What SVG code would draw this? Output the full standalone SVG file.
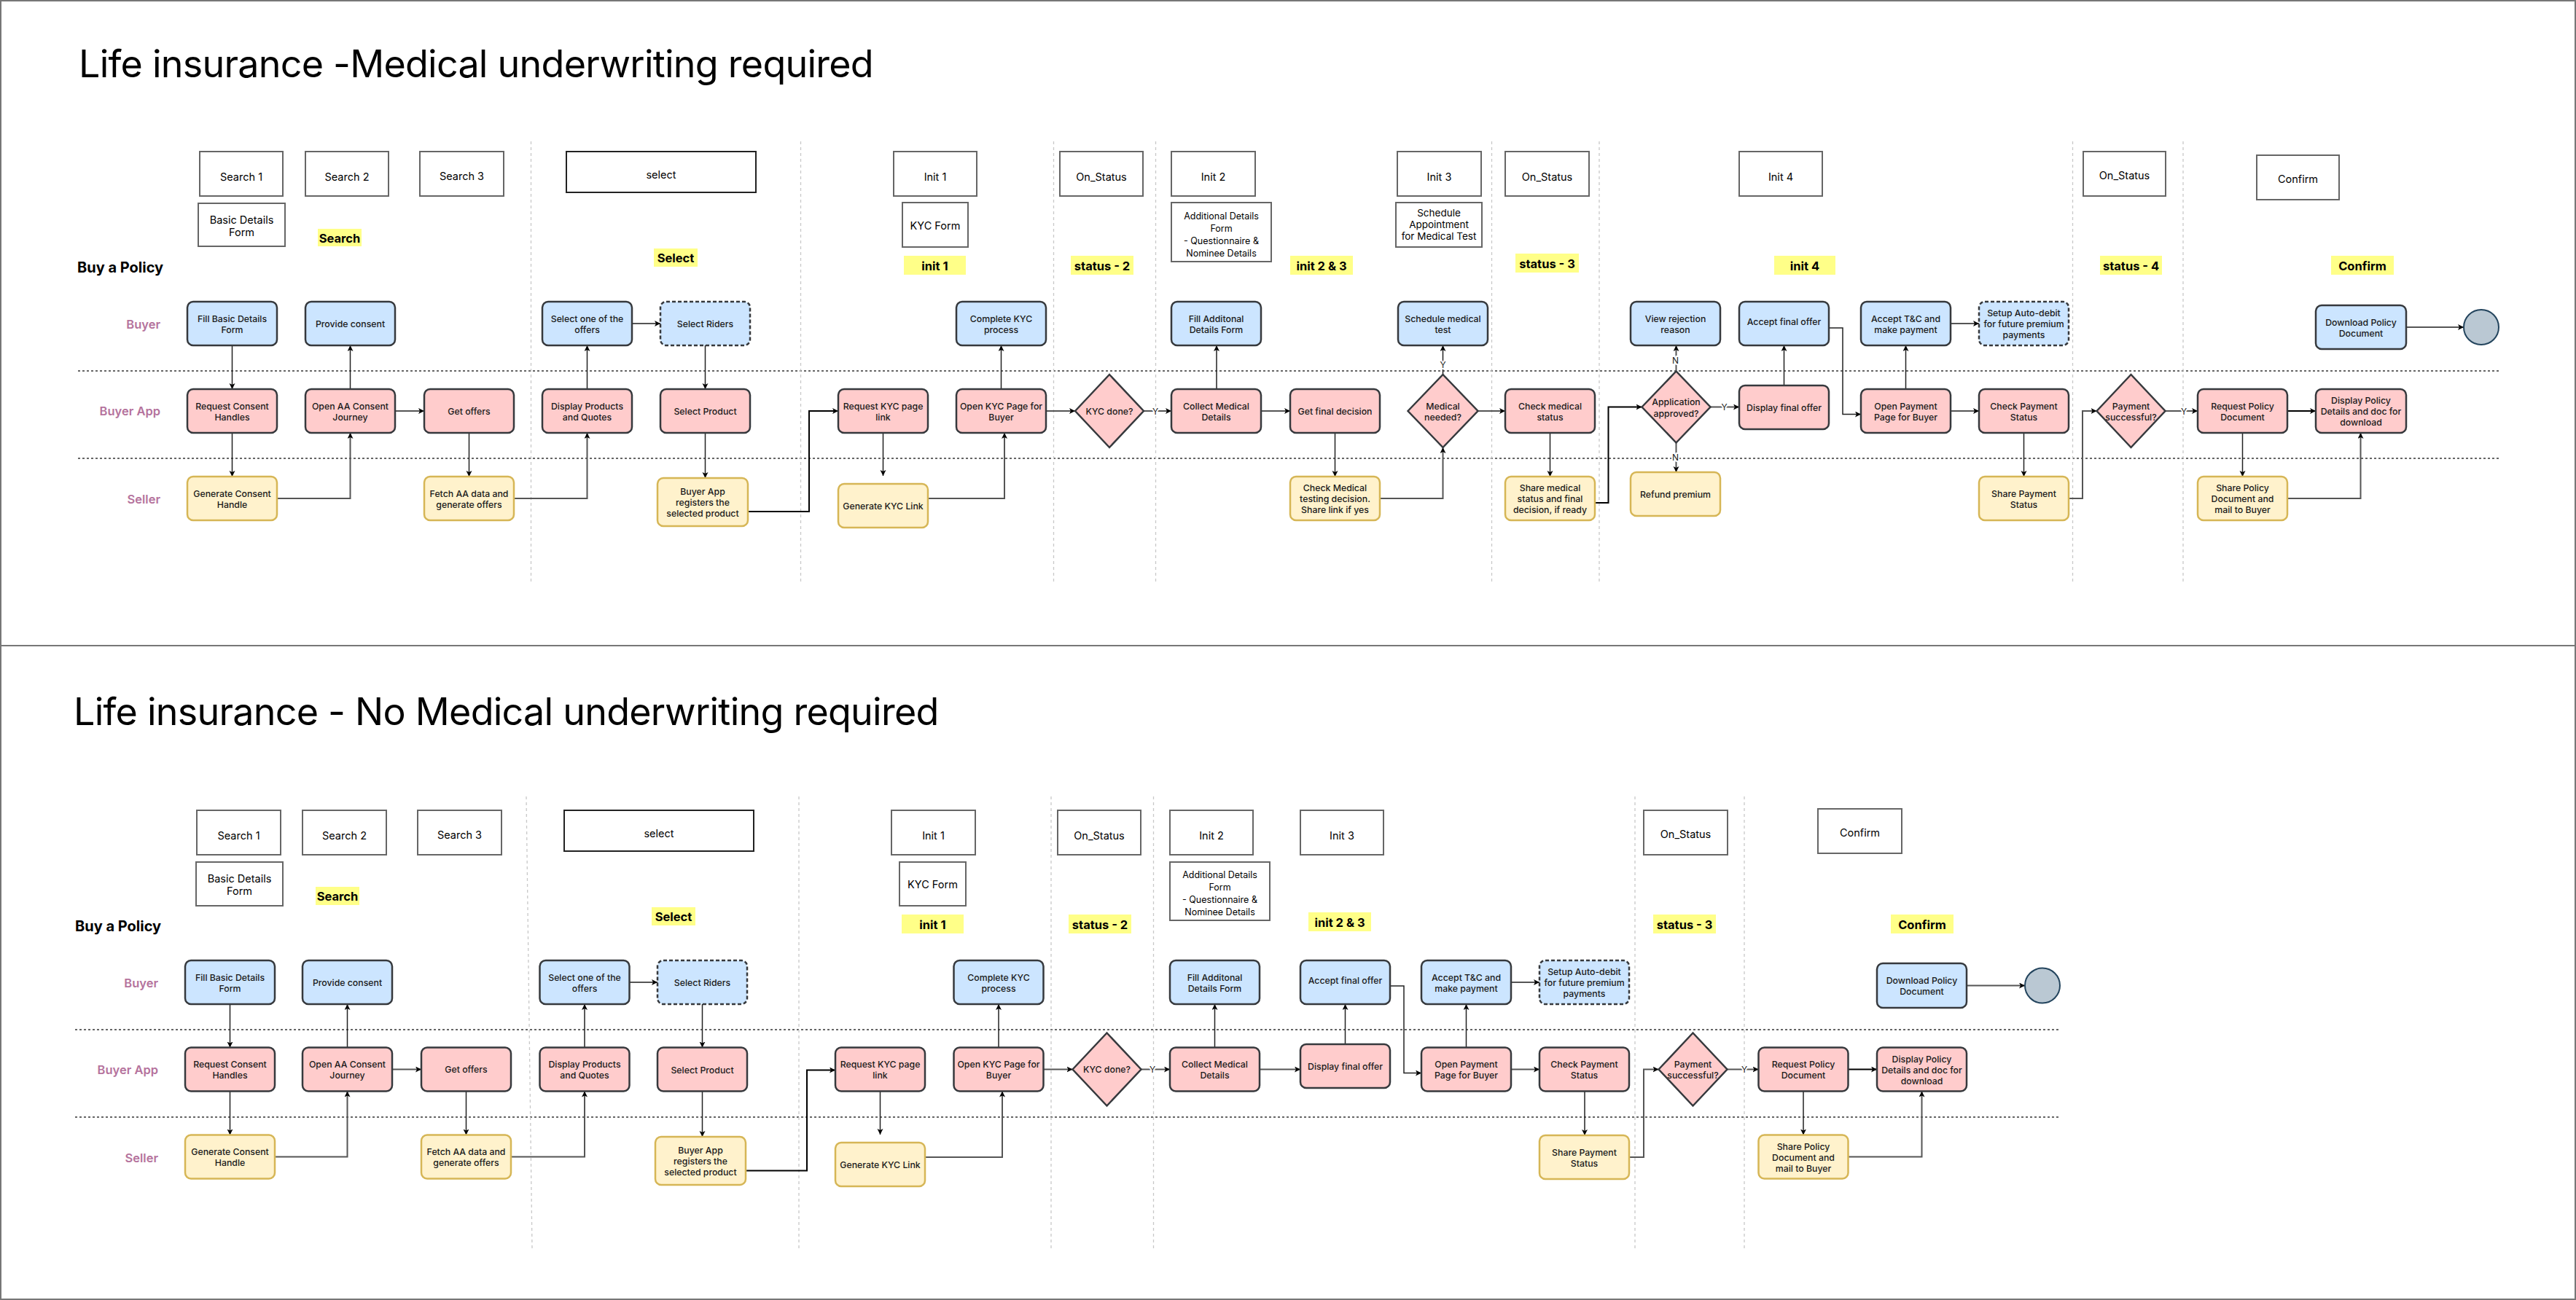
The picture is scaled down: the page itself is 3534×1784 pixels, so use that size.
<svg xmlns="http://www.w3.org/2000/svg" width="3534" height="1784" viewBox="0 0 3534 1784">
<defs>
<marker id="ar" markerUnits="userSpaceOnUse" markerWidth="10" markerHeight="10" refX="8" refY="4" orient="auto"><path d="M0,0 L8,4 L0,8 L2,4 Z" fill="#000"/></marker>
<style>
text{font-family:Inter,"Liberation Sans",sans-serif}
.title{font-size:52px;fill:#000;letter-spacing:-0.75px}
.bap{font-size:20px;font-weight:700;fill:#000}
.lb{fill:#fff;stroke:#666;stroke-width:2}
.lt{font-size:14.5px;fill:#000;text-anchor:middle;dominant-baseline:central}
.st{font-size:12.5px;fill:#000;text-anchor:middle;dominant-baseline:central}
.hl{fill:#FFFF88}
.ht{font-size:16.5px;font-weight:700;fill:#000;text-anchor:middle;dominant-baseline:central}
.bu{fill:#CCE5FF;stroke:#36393D;stroke-width:2.5}
.ba{fill:#FFCCCC;stroke:#36393D;stroke-width:2.5}
.se{fill:#FFF2CC;stroke:#D6B656;stroke-width:2.5}
.dsh{stroke-dasharray:5 3}
.nt{font-size:12.3px;font-weight:500;fill:#1a1a1a;text-anchor:middle;dominant-baseline:central}
.lane{stroke:#666;stroke-width:2;stroke-dasharray:3 3;fill:none}
.sep{stroke:#C8C8C8;stroke-width:1.3;stroke-dasharray:4 4;fill:none}
.ln{font-size:16.5px;font-weight:600;fill:#B5739D;text-anchor:end;dominant-baseline:central}
.c1{fill:none;stroke:#222;stroke-width:1.5;marker-end:url(#ar)}
.c2{fill:none;stroke:#555;stroke-width:2;marker-end:url(#ar)}
.c3{fill:none;stroke:#000;stroke-width:2;marker-end:url(#ar)}
.yn{font-size:12px;fill:#222;text-anchor:middle;dominant-baseline:central;paint-order:stroke;stroke:#fff;stroke-width:4}
.end{fill:#BAC8D3;stroke:#23445D;stroke-width:2}
</style>
</defs>
<rect x="0" y="0" width="3534" height="1784" fill="#fff"/>
<g id="frame" fill="none" stroke="#777" stroke-width="2">
<rect x="1" y="1" width="3532" height="1782"/>
<line x1="0" y1="886" x2="3534" y2="886"/>
</g>

<!-- ================= TOP DIAGRAM ================= -->
<g id="top-headings">
<text class="title" x="108" y="106">Life insurance -Medical underwriting required</text>
<text class="bap" x="106" y="374">Buy a Policy</text>
<text class="ln" x="220" y="445">Buyer</text>
<text class="ln" x="220" y="564">Buyer App</text>
<text class="ln" x="220" y="685">Seller</text>
</g>
<g id="top-lanes">
<line class="lane" x1="107" y1="509" x2="3428" y2="509"/>
<line class="lane" x1="107" y1="629" x2="3428" y2="629"/>
<line class="sep" x1="728.5" y1="194" x2="728.5" y2="800"/>
<line class="sep" x1="1098.5" y1="194" x2="1098.5" y2="800"/>
<line class="sep" x1="1445.5" y1="194" x2="1445.5" y2="800"/>
<line class="sep" x1="1585.5" y1="194" x2="1585.5" y2="800"/>
<line class="sep" x1="2046.5" y1="194" x2="2046.5" y2="800"/>
<line class="sep" x1="2194" y1="194" x2="2194" y2="800"/>
<line class="sep" x1="2843.5" y1="194" x2="2843.5" y2="800"/>
<line class="sep" x1="2995" y1="194" x2="2995" y2="800"/>
</g>
<g id="top-stages">
<g id="t-s1"><rect class="lb" x="274" y="208" width="114" height="61"/><text class="lt" x="331" y="242">Search 1</text></g>
<g id="t-s2"><rect class="lb" x="419" y="208" width="114" height="61"/><text class="lt" x="476" y="242">Search 2</text></g>
<g id="t-s3"><rect class="lb" x="576" y="208" width="115" height="61"/><text class="lt" x="633.5" y="241">Search 3</text></g>
<g id="t-sel"><rect class="lb" x="777" y="208" width="260" height="56" style="stroke:#222"/><text class="lt" x="907" y="239">select</text></g>
<g id="t-bdf"><rect class="lb" x="272" y="279" width="119" height="59"/><text class="lt"><tspan x="331.5" y="301">Basic Details</tspan><tspan x="331.5" y="318">Form</tspan></text></g>
<g id="t-i1"><rect class="lb" x="1226" y="208" width="114" height="61"/><text class="lt" x="1283" y="242">Init 1</text></g>
<g id="t-kyc"><rect class="lb" x="1238" y="278" width="90" height="61"/><text class="lt" x="1283" y="309">KYC Form</text></g>
<g id="t-os1"><rect class="lb" x="1454" y="208" width="114" height="61"/><text class="lt" x="1511" y="242">On_Status</text></g>
<g id="t-i2"><rect class="lb" x="1607" y="208" width="115" height="61"/><text class="lt" x="1664.5" y="242">Init 2</text></g>
<g id="t-adf"><rect class="lb" x="1607" y="278" width="137" height="81"/><text class="st"><tspan x="1675.5" y="296">Additional Details</tspan><tspan x="1675.5" y="313">Form</tspan><tspan x="1675.5" y="330">- Questionnaire &amp;</tspan><tspan x="1675.5" y="347">Nominee Details</tspan></text></g>
<g id="t-i3"><rect class="lb" x="1917" y="208" width="115" height="61"/><text class="lt" x="1974.5" y="242">Init 3</text></g>
<g id="t-sam"><rect class="lb" x="1915" y="278" width="118" height="61"/><text class="st" style="font-size:13.5px"><tspan x="1974" y="292">Schedule</tspan><tspan x="1974" y="308">Appointment</tspan><tspan x="1974" y="324">for Medical Test</tspan></text></g>
<g id="t-os2"><rect class="lb" x="2065" y="208" width="115" height="61"/><text class="lt" x="2122.5" y="242">On_Status</text></g>
<g id="t-i4"><rect class="lb" x="2386" y="208" width="114" height="61"/><text class="lt" x="2443" y="242">Init 4</text></g>
<g id="t-os3"><rect class="lb" x="2858" y="208" width="113" height="61"/><text class="lt" x="2914.5" y="240">On_Status</text></g>
<g id="t-cf"><rect class="lb" x="3096" y="213" width="113" height="61"/><text class="lt" x="3152.5" y="245">Confirm</text></g>
</g>
<g id="top-phase-labels">
<g id="t-h-search"><rect class="hl" x="436" y="314" width="60" height="24"/><text class="ht" x="466" y="326.5">Search</text></g>
<g id="t-h-select"><rect class="hl" x="897" y="341" width="60" height="25"/><text class="ht" x="927" y="354">Select</text></g>
<g id="t-h-init1"><rect class="hl" x="1240" y="351" width="85" height="26"/><text class="ht" x="1282.5" y="364.5">init 1</text></g>
<g id="t-h-st2"><rect class="hl" x="1469" y="351" width="86" height="26"/><text class="ht" x="1512" y="364.5">status - 2</text></g>
<g id="t-h-init23"><rect class="hl" x="1770" y="351" width="86" height="26"/><text class="ht" x="1813" y="364.5">init 2 &amp; 3</text></g>
<g id="t-h-st3"><rect class="hl" x="2079" y="348" width="87" height="26"/><text class="ht" x="2122.5" y="361.5">status - 3</text></g>
<g id="t-h-init4"><rect class="hl" x="2434" y="351" width="84" height="26"/><text class="ht" x="2476" y="364.5">init 4</text></g>
<g id="t-h-st4"><rect class="hl" x="2881" y="351" width="85" height="26"/><text class="ht" x="2923.5" y="364.5">status - 4</text></g>
<g id="t-h-confirm"><rect class="hl" x="3198" y="351" width="86" height="26"/><text class="ht" x="3241" y="364.5">Confirm</text></g>
</g>

<g id="top-connectors">
<path class="c1" d="M318.5,474 V534"/>
<path class="c1" d="M318.5,594 V654"/>
<path class="c2" d="M380,684 H480.5 V594"/>
<path class="c1" d="M480.5,534 V474"/>
<path class="c2" d="M542,564 H582"/>
<path class="c1" d="M643.5,594 V654"/>
<path class="c2" d="M705,684 H805.5 V594"/>
<path class="c1" d="M805.5,534 V474"/>
<path class="c2" d="M867,444 H906"/>
<path class="c1" d="M967.5,474 V534"/>
<path class="c1" d="M967.5,594 V656"/>
<path class="c3" d="M1026,702 H1110 V564 H1150"/>
<path class="c1" d="M1211.5,594 V653"/>
<path class="c2" d="M1273,684 H1378 V594"/>
<path class="c1" d="M1373.5,534 V474"/>
<path class="c2" d="M1435,564 H1475"/>
<path class="c2" d="M1569,564 H1607"/>
<path class="c1" d="M1669,534 V474"/>
<path class="c2" d="M1730,564 H1770"/>
<path class="c1" d="M1831.5,594 V654"/>
<path class="c2" d="M1893,684 H1979.5 V614"/>
<path class="c1" d="M1979.5,514 V474"/>
<path class="c2" d="M2027.5,564 H2065"/>
<path class="c1" d="M2126.5,594 V654"/>
<path class="c3" d="M2188,690 H2206.5 V558.5 H2252.5"/>
<path class="c2" d="M2299.5,509.5 V474"/>
<path class="c2" d="M2299.5,607.5 V648"/>
<path class="c2" d="M2346.5,558.5 H2386"/>
<path class="c1" d="M2447.5,529 V474"/>
<path class="c1" d="M2509,450 H2528 V568.5 H2553"/>
<path class="c1" d="M2614.5,534 V474"/>
<path class="c2" d="M2676,444 H2715"/>
<path class="c2" d="M2676,564 H2715"/>
<path class="c1" d="M2776.5,594 V654"/>
<path class="c2" d="M2838,684 H2857 V564 H2876.5"/>
<path class="c2" d="M2970.5,564 H3015"/>
<path class="c3" d="M3138,564 H3177"/>
<path class="c1" d="M3076.5,594 V654"/>
<path class="c2" d="M3138,684 H3238.5 V594"/>
<path class="c2" d="M3301,449 H3380"/>
<text class="yn" x="1585" y="564">Y</text>
<text class="yn" x="1979.5" y="500">Y</text>
<text class="yn" x="2298.5" y="494">N</text>
<text class="yn" x="2298.5" y="627">N</text>
<text class="yn" x="2365.5" y="558.5">Y</text>
<text class="yn" x="2996" y="564">Y</text>
</g>

<g id="t-fill"><rect class="bu" x="257" y="414" width="123" height="60" rx="8"/><text class="nt"><tspan x="318.5" y="436.5">Fill Basic Details</tspan><tspan x="318.5" y="451.5">Form</tspan></text></g>
<g id="t-prov"><rect class="bu" x="419" y="414" width="123" height="60" rx="8"/><text class="nt" x="480.5" y="444">Provide consent</text></g>
<g id="t-selone"><rect class="bu" x="744" y="414" width="123" height="60" rx="8"/><text class="nt"><tspan x="805.5" y="436.5">Select one of the</tspan><tspan x="805.5" y="451.5">offers</tspan></text></g>
<g id="t-riders"><rect class="bu dsh" x="906" y="414" width="123" height="60" rx="8"/><text class="nt" x="967.5" y="444">Select Riders</text></g>
<g id="t-ckyc"><rect class="bu" x="1312" y="414" width="123" height="60" rx="8"/><text class="nt"><tspan x="1373.5" y="436.5">Complete KYC</tspan><tspan x="1373.5" y="451.5">process</tspan></text></g>
<g id="t-fillad"><rect class="bu" x="1607" y="414" width="123" height="60" rx="8"/><text class="nt"><tspan x="1668.5" y="436.5">Fill Additonal</tspan><tspan x="1668.5" y="451.5">Details Form</tspan></text></g>
<g id="t-sched"><rect class="bu" x="1918" y="414" width="123" height="60" rx="8"/><text class="nt"><tspan x="1979.5" y="436.5">Schedule medical</tspan><tspan x="1979.5" y="451.5">test</tspan></text></g>
<g id="t-viewrej"><rect class="bu" x="2237" y="414" width="123" height="60" rx="8"/><text class="nt"><tspan x="2298.5" y="436.5">View rejection</tspan><tspan x="2298.5" y="451.5">reason</tspan></text></g>
<g id="t-accfin"><rect class="bu" x="2386" y="414" width="123" height="60" rx="8"/><text class="nt" x="2447.5" y="441">Accept final offer</text></g>
<g id="t-acctc"><rect class="bu" x="2553" y="414" width="123" height="60" rx="8"/><text class="nt"><tspan x="2614.5" y="436.5">Accept T&amp;C and</tspan><tspan x="2614.5" y="451.5">make payment</tspan></text></g>
<g id="t-auto"><rect class="bu dsh" x="2715" y="414" width="123" height="60" rx="8"/><text class="nt"><tspan x="2776.5" y="429">Setup Auto-debit</tspan><tspan x="2776.5" y="444">for future premium</tspan><tspan x="2776.5" y="459">payments</tspan></text></g>
<g id="t-dl"><rect class="bu" x="3177" y="419" width="124" height="60" rx="8"/><text class="nt"><tspan x="3239" y="441.5">Download Policy</tspan><tspan x="3239" y="456.5">Document</tspan></text></g>
<g id="t-end"><circle class="end" cx="3404" cy="449" r="24"/></g>

<g id="t-reqc"><rect class="ba" x="257" y="534" width="123" height="60" rx="8"/><text class="nt"><tspan x="318.5" y="556.5">Request Consent</tspan><tspan x="318.5" y="571.5">Handles</tspan></text></g>
<g id="t-openaa"><rect class="ba" x="419" y="534" width="123" height="60" rx="8"/><text class="nt"><tspan x="480.5" y="556.5">Open AA Consent</tspan><tspan x="480.5" y="571.5">Journey</tspan></text></g>
<g id="t-getoff"><rect class="ba" x="582" y="534" width="123" height="60" rx="8"/><text class="nt" x="643.5" y="564">Get offers</text></g>
<g id="t-disp"><rect class="ba" x="744" y="534" width="123" height="60" rx="8"/><text class="nt"><tspan x="805.5" y="556.5">Display Products</tspan><tspan x="805.5" y="571.5">and Quotes</tspan></text></g>
<g id="t-selprod"><rect class="ba" x="906" y="534" width="123" height="60" rx="8"/><text class="nt" x="967.5" y="564">Select Product</text></g>
<g id="t-reqkyc"><rect class="ba" x="1150" y="534" width="123" height="60" rx="8"/><text class="nt"><tspan x="1211.5" y="556.5">Request KYC page</tspan><tspan x="1211.5" y="571.5">link</tspan></text></g>
<g id="t-openkyc"><rect class="ba" x="1312" y="534" width="123" height="60" rx="8"/><text class="nt"><tspan x="1373.5" y="556.5">Open KYC Page for</tspan><tspan x="1373.5" y="571.5">Buyer</tspan></text></g>
<g id="t-dkyc"><polygon class="ba" points="1475,564 1522,514 1569,564 1522,614"/><text class="nt" x="1522" y="564">KYC done?</text></g>
<g id="t-collect"><rect class="ba" x="1607" y="534" width="123" height="60" rx="8"/><text class="nt"><tspan x="1668.5" y="556.5">Collect Medical</tspan><tspan x="1668.5" y="571.5">Details</tspan></text></g>
<g id="t-getfin"><rect class="ba" x="1770" y="534" width="123" height="60" rx="8"/><text class="nt" x="1831.5" y="564">Get final decision</text></g>
<g id="t-dmed"><polygon class="ba" points="1931.5,564 1979.5,514 2027.5,564 1979.5,614"/><text class="nt"><tspan x="1979.5" y="556.5">Medical</tspan><tspan x="1979.5" y="571.5">needed?</tspan></text></g>
<g id="t-checkmed"><rect class="ba" x="2065" y="534" width="123" height="60" rx="8"/><text class="nt"><tspan x="2126.5" y="556.5">Check medical</tspan><tspan x="2126.5" y="571.5">status</tspan></text></g>
<g id="t-dapp"><polygon class="ba" points="2252.5,558.5 2299.5,509.5 2346.5,558.5 2299.5,607.5"/><text class="nt"><tspan x="2299.5" y="551">Application</tspan><tspan x="2299.5" y="567">approved?</tspan></text></g>
<g id="t-dispfin"><rect class="ba" x="2386" y="529" width="123" height="60" rx="8"/><text class="nt" x="2447.5" y="559">Display final offer</text></g>
<g id="t-openpay"><rect class="ba" x="2553" y="534" width="123" height="60" rx="8"/><text class="nt"><tspan x="2614.5" y="556.5">Open Payment</tspan><tspan x="2614.5" y="571.5">Page for Buyer</tspan></text></g>
<g id="t-checkpay"><rect class="ba" x="2715" y="534" width="123" height="60" rx="8"/><text class="nt"><tspan x="2776.5" y="556.5">Check Payment</tspan><tspan x="2776.5" y="571.5">Status</tspan></text></g>
<g id="t-dpay"><polygon class="ba" points="2876.5,564 2923.5,514 2970.5,564 2923.5,614"/><text class="nt"><tspan x="2923.5" y="556.5">Payment</tspan><tspan x="2923.5" y="571.5">successful?</tspan></text></g>
<g id="t-reqpol"><rect class="ba" x="3015" y="534" width="123" height="60" rx="8"/><text class="nt"><tspan x="3076.5" y="556.5">Request Policy</tspan><tspan x="3076.5" y="571.5">Document</tspan></text></g>
<g id="t-disppol"><rect class="ba" x="3177" y="534" width="124" height="60" rx="8"/><text class="nt"><tspan x="3239" y="549">Display Policy</tspan><tspan x="3239" y="564">Details and doc for</tspan><tspan x="3239" y="579">download</tspan></text></g>

<g id="t-gen"><rect class="se" x="257" y="654" width="123" height="60" rx="8"/><text class="nt"><tspan x="318.5" y="676.5">Generate Consent</tspan><tspan x="318.5" y="691.5">Handle</tspan></text></g>
<g id="t-fetch"><rect class="se" x="582" y="654" width="123" height="60" rx="8"/><text class="nt"><tspan x="643.5" y="676.5">Fetch AA data and</tspan><tspan x="643.5" y="691.5">generate offers</tspan></text></g>
<g id="t-bareg"><rect class="se" x="902" y="656" width="124" height="66" rx="8"/><text class="nt"><tspan x="964" y="674">Buyer App</tspan><tspan x="964" y="689">registers the</tspan><tspan x="964" y="704">selected product</tspan></text></g>
<g id="t-genkyc"><rect class="se" x="1150" y="664" width="123" height="60" rx="8"/><text class="nt" x="1211.5" y="694">Generate KYC Link</text></g>
<g id="t-chkmt"><rect class="se" x="1770" y="654" width="123" height="60" rx="8"/><text class="nt"><tspan x="1831.5" y="669">Check Medical</tspan><tspan x="1831.5" y="684">testing decision.</tspan><tspan x="1831.5" y="699">Share link if yes</tspan></text></g>
<g id="t-sharemed"><rect class="se" x="2065" y="654" width="123" height="60" rx="8"/><text class="nt"><tspan x="2126.5" y="669">Share medical</tspan><tspan x="2126.5" y="684">status and final</tspan><tspan x="2126.5" y="699">decision, if ready</tspan></text></g>
<g id="t-refund"><rect class="se" x="2237" y="648" width="123" height="60" rx="8"/><text class="nt" x="2298.5" y="678">Refund premium</text></g>
<g id="t-sharepay"><rect class="se" x="2715" y="654" width="123" height="60" rx="8"/><text class="nt"><tspan x="2776.5" y="676.5">Share Payment</tspan><tspan x="2776.5" y="691.5">Status</tspan></text></g>
<g id="t-sharepol"><rect class="se" x="3015" y="654" width="123" height="60" rx="8"/><text class="nt"><tspan x="3076.5" y="669">Share Policy</tspan><tspan x="3076.5" y="684">Document and</tspan><tspan x="3076.5" y="699">mail to Buyer</tspan></text></g>

<!-- ================= BOTTOM DIAGRAM ================= -->
<g id="bottom-headings">
<text class="title" x="101" y="995">Life insurance - No Medical underwriting required</text>
<text class="bap" x="103" y="1278">Buy a Policy</text>
<text class="ln" x="217" y="1349">Buyer</text>
<text class="ln" x="217" y="1468">Buyer App</text>
<text class="ln" x="217" y="1589">Seller</text>
</g>
<g id="bottom-lanes">
<line class="lane" x1="103" y1="1413" x2="2826" y2="1413"/>
<line class="lane" x1="103" y1="1533" x2="2826" y2="1533"/>
<line class="sep" x1="722" y1="1093" x2="730" y2="1713"/>
<line class="sep" x1="1096" y1="1093" x2="1096" y2="1713"/>
<line class="sep" x1="1442" y1="1093" x2="1442" y2="1713"/>
<line class="sep" x1="1582.5" y1="1093" x2="1582.5" y2="1713"/>
<line class="sep" x1="2243" y1="1093" x2="2243" y2="1713"/>
<line class="sep" x1="2393" y1="1093" x2="2393" y2="1713"/>
</g>
<g id="bottom-stages">
<g id="b-s1"><rect class="lb" x="270" y="1112" width="115" height="61"/><text class="lt" x="327.5" y="1146">Search 1</text></g>
<g id="b-s2"><rect class="lb" x="415" y="1112" width="115" height="61"/><text class="lt" x="472.5" y="1146">Search 2</text></g>
<g id="b-s3"><rect class="lb" x="573" y="1112" width="115" height="61"/><text class="lt" x="630.5" y="1145">Search 3</text></g>
<g id="b-sel"><rect class="lb" x="774" y="1112" width="260" height="56" style="stroke:#222"/><text class="lt" x="904" y="1143">select</text></g>
<g id="b-bdf"><rect class="lb" x="269" y="1183" width="119" height="60"/><text class="lt"><tspan x="328.5" y="1205">Basic Details</tspan><tspan x="328.5" y="1222">Form</tspan></text></g>
<g id="b-i1"><rect class="lb" x="1223" y="1112" width="115" height="61"/><text class="lt" x="1280.5" y="1146">Init 1</text></g>
<g id="b-kyc"><rect class="lb" x="1234" y="1183" width="91" height="60"/><text class="lt" x="1279.5" y="1213">KYC Form</text></g>
<g id="b-os1"><rect class="lb" x="1451" y="1112" width="114" height="61"/><text class="lt" x="1508" y="1146">On_Status</text></g>
<g id="b-i2"><rect class="lb" x="1605" y="1112" width="114" height="61"/><text class="lt" x="1662" y="1146">Init 2</text></g>
<g id="b-adf"><rect class="lb" x="1605" y="1183" width="137" height="80"/><text class="st"><tspan x="1673.5" y="1200">Additional Details</tspan><tspan x="1673.5" y="1217">Form</tspan><tspan x="1673.5" y="1234">- Questionnaire &amp;</tspan><tspan x="1673.5" y="1251">Nominee Details</tspan></text></g>
<g id="b-i3"><rect class="lb" x="1784" y="1112" width="114" height="61"/><text class="lt" x="1841" y="1146">Init 3</text></g>
<g id="b-os2"><rect class="lb" x="2255" y="1112" width="115" height="61"/><text class="lt" x="2312.5" y="1144">On_Status</text></g>
<g id="b-cf"><rect class="lb" x="2494" y="1110" width="115" height="61"/><text class="lt" x="2551.5" y="1142">Confirm</text></g>
</g>
<g id="bottom-phase-labels">
<g id="b-h-search"><rect class="hl" x="433" y="1217" width="60" height="25"/><text class="ht" x="463" y="1230">Search</text></g>
<g id="b-h-select"><rect class="hl" x="894" y="1245" width="60" height="25"/><text class="ht" x="924" y="1258">Select</text></g>
<g id="b-h-init1"><rect class="hl" x="1237" y="1255" width="85" height="26"/><text class="ht" x="1279.5" y="1268.5">init 1</text></g>
<g id="b-h-st2"><rect class="hl" x="1466" y="1255" width="86" height="26"/><text class="ht" x="1509" y="1268.5">status - 2</text></g>
<g id="b-h-init23"><rect class="hl" x="1795" y="1252" width="86" height="26"/><text class="ht" x="1838" y="1265.5">init 2 &amp; 3</text></g>
<g id="b-h-st3"><rect class="hl" x="2268" y="1255" width="86" height="26"/><text class="ht" x="2311" y="1268.5">status - 3</text></g>
<g id="b-h-confirm"><rect class="hl" x="2594" y="1255" width="86" height="26"/><text class="ht" x="2637" y="1268.5">Confirm</text></g>
</g>

<g id="bottom-connectors">
<path class="c1" d="M315.5,1378 V1437.5"/>
<path class="c1" d="M315.5,1497.5 V1557.5"/>
<path class="c2" d="M377,1587.5 H476.5 V1497.5"/>
<path class="c1" d="M476.5,1437.5 V1378"/>
<path class="c2" d="M538,1467.5 H578"/>
<path class="c1" d="M639.5,1497.5 V1557.5"/>
<path class="c2" d="M701,1587.5 H802 V1497.5"/>
<path class="c1" d="M802,1437.5 V1378"/>
<path class="c2" d="M863.5,1348 H902"/>
<path class="c1" d="M963.5,1378 V1437.5"/>
<path class="c1" d="M963.5,1497.5 V1560"/>
<path class="c3" d="M1023,1606.5 H1107 V1468.5 H1146"/>
<path class="c1" d="M1207.5,1497.5 V1557"/>
<path class="c2" d="M1269,1588 H1375 V1497.5"/>
<path class="c1" d="M1370,1437.5 V1378"/>
<path class="c2" d="M1431.5,1467.5 H1471.5"/>
<path class="c2" d="M1565.5,1467.5 H1605"/>
<path class="c1" d="M1666.5,1437.5 V1378"/>
<path class="c2" d="M1728,1467.5 H1784"/>
<path class="c1" d="M1845.5,1433 V1378"/>
<path class="c1" d="M1907,1353 H1926 V1472.5 H1950"/>
<path class="c1" d="M2011.5,1437.5 V1378"/>
<path class="c2" d="M2073,1348 H2112"/>
<path class="c2" d="M2073,1467.5 H2112"/>
<path class="c1" d="M2174,1497.5 V1558"/>
<path class="c2" d="M2235,1588 H2255 V1467.5 H2275.5"/>
<path class="c2" d="M2369.5,1467.5 H2412.5"/>
<path class="c3" d="M2535.5,1467.5 H2575"/>
<path class="c1" d="M2474,1497.5 V1557.5"/>
<path class="c2" d="M2535.5,1587.5 H2636.5 V1497.5"/>
<path class="c2" d="M2698,1352.5 H2778"/>
<text class="yn" x="1581" y="1467.5">Y</text>
<text class="yn" x="2393" y="1467.5">Y</text>
</g>

<g id="b-fill"><rect class="bu" x="254" y="1318" width="123" height="60" rx="8"/><text class="nt"><tspan x="315.5" y="1340.5">Fill Basic Details</tspan><tspan x="315.5" y="1355.5">Form</tspan></text></g>
<g id="b-prov"><rect class="bu" x="415" y="1318" width="123" height="60" rx="8"/><text class="nt" x="476.5" y="1348">Provide consent</text></g>
<g id="b-selone"><rect class="bu" x="740.5" y="1318" width="123" height="60" rx="8"/><text class="nt"><tspan x="802" y="1340.5">Select one of the</tspan><tspan x="802" y="1355.5">offers</tspan></text></g>
<g id="b-riders"><rect class="bu dsh" x="902" y="1318" width="123" height="60" rx="8"/><text class="nt" x="963.5" y="1348">Select Riders</text></g>
<g id="b-ckyc"><rect class="bu" x="1308.5" y="1318" width="123" height="60" rx="8"/><text class="nt"><tspan x="1370" y="1340.5">Complete KYC</tspan><tspan x="1370" y="1355.5">process</tspan></text></g>
<g id="b-fillad"><rect class="bu" x="1605" y="1318" width="123" height="60" rx="8"/><text class="nt"><tspan x="1666.5" y="1340.5">Fill Additonal</tspan><tspan x="1666.5" y="1355.5">Details Form</tspan></text></g>
<g id="b-accfin"><rect class="bu" x="1784" y="1318" width="123" height="60" rx="8"/><text class="nt" x="1845.5" y="1345">Accept final offer</text></g>
<g id="b-acctc"><rect class="bu" x="1950" y="1318" width="123" height="60" rx="8"/><text class="nt"><tspan x="2011.5" y="1340.5">Accept T&amp;C and</tspan><tspan x="2011.5" y="1355.5">make payment</tspan></text></g>
<g id="b-auto"><rect class="bu dsh" x="2112" y="1318" width="123" height="60" rx="8"/><text class="nt"><tspan x="2173.5" y="1333">Setup Auto-debit</tspan><tspan x="2173.5" y="1348">for future premium</tspan><tspan x="2173.5" y="1363">payments</tspan></text></g>
<g id="b-dl"><rect class="bu" x="2575" y="1322" width="123" height="61" rx="8"/><text class="nt"><tspan x="2636.5" y="1345">Download Policy</tspan><tspan x="2636.5" y="1360">Document</tspan></text></g>
<g id="b-end"><circle class="end" cx="2802" cy="1352.5" r="24"/></g>

<g id="b-reqc"><rect class="ba" x="254" y="1437.5" width="123" height="60" rx="8"/><text class="nt"><tspan x="315.5" y="1460">Request Consent</tspan><tspan x="315.5" y="1475">Handles</tspan></text></g>
<g id="b-openaa"><rect class="ba" x="415" y="1437.5" width="123" height="60" rx="8"/><text class="nt"><tspan x="476.5" y="1460">Open AA Consent</tspan><tspan x="476.5" y="1475">Journey</tspan></text></g>
<g id="b-getoff"><rect class="ba" x="578" y="1437.5" width="123" height="60" rx="8"/><text class="nt" x="639.5" y="1467.5">Get offers</text></g>
<g id="b-disp"><rect class="ba" x="740.5" y="1437.5" width="123" height="60" rx="8"/><text class="nt"><tspan x="802" y="1460">Display Products</tspan><tspan x="802" y="1475">and Quotes</tspan></text></g>
<g id="b-selprod"><rect class="ba" x="902" y="1437.5" width="123" height="60" rx="8"/><text class="nt" x="963.5" y="1468.5">Select Product</text></g>
<g id="b-reqkyc"><rect class="ba" x="1146" y="1437.5" width="123" height="60" rx="8"/><text class="nt"><tspan x="1207.5" y="1460">Request KYC page</tspan><tspan x="1207.5" y="1475">link</tspan></text></g>
<g id="b-openkyc"><rect class="ba" x="1308.5" y="1437.5" width="123" height="60" rx="8"/><text class="nt"><tspan x="1370" y="1460">Open KYC Page for</tspan><tspan x="1370" y="1475">Buyer</tspan></text></g>
<g id="b-dkyc"><polygon class="ba" points="1471.5,1467.5 1518.5,1417.5 1565.5,1467.5 1518.5,1517.5"/><text class="nt" x="1518.5" y="1467.5">KYC done?</text></g>
<g id="b-collect"><rect class="ba" x="1605" y="1437.5" width="123" height="60" rx="8"/><text class="nt"><tspan x="1666.5" y="1460">Collect Medical</tspan><tspan x="1666.5" y="1475">Details</tspan></text></g>
<g id="b-dispfin"><rect class="ba" x="1784" y="1433" width="123" height="60" rx="8"/><text class="nt" x="1845.5" y="1463">Display final offer</text></g>
<g id="b-openpay"><rect class="ba" x="1950" y="1437.5" width="123" height="60" rx="8"/><text class="nt"><tspan x="2011.5" y="1460">Open Payment</tspan><tspan x="2011.5" y="1475">Page for Buyer</tspan></text></g>
<g id="b-checkpay"><rect class="ba" x="2112" y="1437.5" width="123" height="60" rx="8"/><text class="nt"><tspan x="2173.5" y="1460">Check Payment</tspan><tspan x="2173.5" y="1475">Status</tspan></text></g>
<g id="b-dpay"><polygon class="ba" points="2275.5,1467.5 2322.5,1417.5 2369.5,1467.5 2322.5,1517.5"/><text class="nt"><tspan x="2322.5" y="1460">Payment</tspan><tspan x="2322.5" y="1475">successful?</tspan></text></g>
<g id="b-reqpol"><rect class="ba" x="2412.5" y="1437.5" width="123" height="60" rx="8"/><text class="nt"><tspan x="2474" y="1460">Request Policy</tspan><tspan x="2474" y="1475">Document</tspan></text></g>
<g id="b-disppol"><rect class="ba" x="2575" y="1437.5" width="123" height="60" rx="8"/><text class="nt"><tspan x="2636.5" y="1452.5">Display Policy</tspan><tspan x="2636.5" y="1467.5">Details and doc for</tspan><tspan x="2636.5" y="1482.5">download</tspan></text></g>

<g id="b-gen"><rect class="se" x="254" y="1557.5" width="123" height="60" rx="8"/><text class="nt"><tspan x="315.5" y="1580">Generate Consent</tspan><tspan x="315.5" y="1595">Handle</tspan></text></g>
<g id="b-fetch"><rect class="se" x="578" y="1557.5" width="123" height="60" rx="8"/><text class="nt"><tspan x="639.5" y="1580">Fetch AA data and</tspan><tspan x="639.5" y="1595">generate offers</tspan></text></g>
<g id="b-bareg"><rect class="se" x="899" y="1560" width="124" height="66" rx="8"/><text class="nt"><tspan x="961" y="1578">Buyer App</tspan><tspan x="961" y="1593">registers the</tspan><tspan x="961" y="1608">selected product</tspan></text></g>
<g id="b-genkyc"><rect class="se" x="1146" y="1568" width="123" height="60" rx="8"/><text class="nt" x="1207.5" y="1598">Generate KYC Link</text></g>
<g id="b-sharepay"><rect class="se" x="2112" y="1558" width="123" height="60" rx="8"/><text class="nt"><tspan x="2173.5" y="1580.5">Share Payment</tspan><tspan x="2173.5" y="1595.5">Status</tspan></text></g>
<g id="b-sharepol"><rect class="se" x="2412.5" y="1557.5" width="123" height="60" rx="8"/><text class="nt"><tspan x="2474" y="1572.5">Share Policy</tspan><tspan x="2474" y="1587.5">Document and</tspan><tspan x="2474" y="1602.5">mail to Buyer</tspan></text></g>
</svg>
